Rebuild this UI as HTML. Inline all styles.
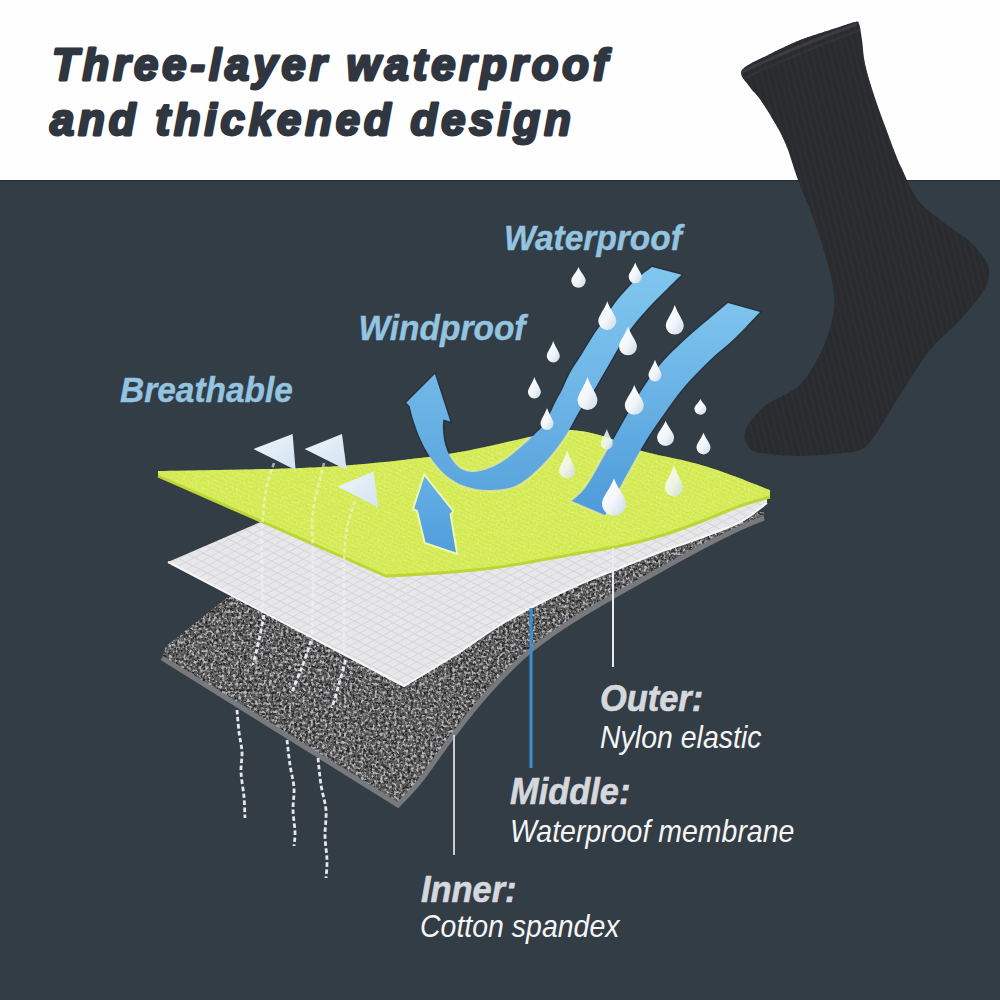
<!DOCTYPE html>
<html><head><meta charset="utf-8">
<style>
html,body{margin:0;padding:0;width:1000px;height:1000px;overflow:hidden;background:#fff;}
svg{display:block;}
text{font-family:"Liberation Sans",sans-serif;}
</style></head>
<body>
<svg width="1000" height="1000" viewBox="0 0 1000 1000">
<defs>
<linearGradient id="rib1" gradientUnits="userSpaceOnUse" x1="0" y1="267" x2="0" y2="491">
<stop offset="0" stop-color="#80c6ef"/><stop offset="0.6" stop-color="#6cb4e6"/><stop offset="1" stop-color="#5aa5de"/>
</linearGradient>
<linearGradient id="rib2" gradientUnits="userSpaceOnUse" x1="0" y1="303" x2="0" y2="515">
<stop offset="0" stop-color="#7ec4ee"/><stop offset="1" stop-color="#4d9bd9"/>
</linearGradient>
<linearGradient id="arr3" gradientUnits="userSpaceOnUse" x1="0" y1="474" x2="0" y2="554">
<stop offset="0" stop-color="#66b0e6"/><stop offset="1" stop-color="#4f9ddb"/>
</linearGradient>
<linearGradient id="drop" x1="0" y1="0" x2="1" y2="1">
<stop offset="0" stop-color="#ffffff"/><stop offset="0.55" stop-color="#f2f6fa"/><stop offset="1" stop-color="#c9d8e6"/>
</linearGradient>
<linearGradient id="tri" x1="0" y1="0" x2="1" y2="1">
<stop offset="0" stop-color="#eef5fb"/><stop offset="1" stop-color="#d3e3f0"/>
</linearGradient>
<filter id="speck" x="0" y="0" width="1" height="1" color-interpolation-filters="sRGB">
<feTurbulence type="fractalNoise" baseFrequency="0.36" numOctaves="2" seed="3" result="t"/>
<feColorMatrix in="t" type="matrix" values="0 0 0 0 0  0 0 0 0 0  0 0 0 0 0  4 0 0 0 -1.85" result="a"/>
<feFlood flood-color="#b8b8b8" result="w"/>
<feComposite in="w" in2="a" operator="in" result="wa"/>
<feComposite in="wa" in2="SourceGraphic" operator="in"/>
</filter>
<filter id="speckd" x="0" y="0" width="1" height="1" color-interpolation-filters="sRGB">
<feTurbulence type="fractalNoise" baseFrequency="0.38" numOctaves="2" seed="11" result="t"/>
<feColorMatrix in="t" type="matrix" values="0 0 0 0 0  0 0 0 0 0  0 0 0 0 0  4 0 0 0 -1.7" result="a"/>
<feFlood flood-color="#262626" result="w"/>
<feComposite in="w" in2="a" operator="in" result="wa"/>
<feComposite in="wa" in2="SourceGraphic" operator="in"/>
</filter>
<pattern id="grid" patternUnits="userSpaceOnUse" width="8" height="8" patternTransform="rotate(27) skewX(-35)">
<rect width="8" height="8" fill="#e8e8ea"/>
<path d="M0,0.5 H8 M0.5,0 V8" stroke="#d6d6da" stroke-width="1"/>
</pattern>
<pattern id="ribs" patternUnits="userSpaceOnUse" width="4" height="4" patternTransform="rotate(24)">
<rect width="4" height="4" fill="none"/>
<path d="M0,1 H4" stroke="#c9e04c" stroke-width="1.2"/>
</pattern>
<pattern id="sockribs" patternUnits="userSpaceOnUse" width="6" height="6" patternTransform="rotate(-14)">
<rect width="6" height="6" fill="none"/>
<rect x="0" y="0" width="1.6" height="6" fill="#2d2f33"/>
</pattern>
<filter id="yspeck" x="0" y="0" width="1" height="1" color-interpolation-filters="sRGB">
<feTurbulence type="fractalNoise" baseFrequency="0.5" numOctaves="2" seed="7" result="t"/>
<feColorMatrix in="t" type="matrix" values="0 0 0 0 0  0 0 0 0 0  0 0 0 0 0  3 0 0 0 -1.3" result="a"/>
<feFlood flood-color="#bfd83e" result="w"/>
<feComposite in="w" in2="a" operator="in" result="wa"/>
<feComposite in="wa" in2="SourceGraphic" operator="in"/>
</filter>
<filter id="yspeck2" x="0" y="0" width="1" height="1" color-interpolation-filters="sRGB">
<feTurbulence type="fractalNoise" baseFrequency="0.5" numOctaves="2" seed="21" result="t"/>
<feColorMatrix in="t" type="matrix" values="0 0 0 0 0  0 0 0 0 0  0 0 0 0 0  3 0 0 0 -1.4" result="a"/>
<feFlood flood-color="#e6f48c" result="w"/>
<feComposite in="w" in2="a" operator="in" result="wa"/>
<feComposite in="wa" in2="SourceGraphic" operator="in"/>
</filter>
</defs>
<rect x="0" y="0" width="1000" height="180" fill="#fefefe"/>
<rect x="0" y="180" width="1000" height="820" fill="#333d46"/>
<rect x="0" y="180" width="1000" height="1.5" fill="#2a3038"/>
<g font-size="43.5" font-weight="bold" font-style="italic" fill="#2f3640" stroke="#2f3640" stroke-width="2.8" stroke-linejoin="round" letter-spacing="4">
<text x="52" y="79.5">Three-layer waterproof</text>
<text x="50" y="135">and thickened design</text>
</g>
<clipPath id="sockclip"><path d="M742.0,70.0 C745.5,64.7 760.3,59.0 770.0,54.0 C779.7,49.0 790.0,44.0 800.0,40.0 C810.0,36.0 820.8,33.0 830.0,30.0 C839.2,27.0 850.2,23.0 855.0,22.0 C859.8,21.0 857.8,21.0 859.0,24.0 C860.2,27.0 861.0,33.3 862.0,40.0 C863.0,46.7 863.2,55.3 865.0,64.0 C866.8,72.7 870.2,83.0 873.0,92.0 C875.8,101.0 878.8,109.2 882.0,118.0 C885.2,126.8 888.8,136.8 892.0,145.0 C895.2,153.2 896.7,157.8 901.0,167.0 C905.3,176.2 911.0,190.8 918.0,200.0 C925.0,209.2 934.7,215.3 943.0,222.0 C951.3,228.7 961.2,234.0 968.0,240.0 C974.8,246.0 980.5,252.7 984.0,258.0 C987.5,263.3 989.0,266.7 989.0,272.0 C989.0,277.3 988.8,282.0 984.0,290.0 C979.2,298.0 969.0,310.0 960.0,320.0 C951.0,330.0 940.0,337.5 930.0,350.0 C920.0,362.5 909.2,380.8 900.0,395.0 C890.8,409.2 881.7,425.8 875.0,435.0 C868.3,444.2 867.5,446.8 860.0,450.0 C852.5,453.2 840.0,453.0 830.0,454.0 C820.0,455.0 810.0,456.0 800.0,456.0 C790.0,456.0 778.0,455.0 770.0,454.0 C762.0,453.0 756.2,453.7 752.0,450.0 C747.8,446.3 742.8,439.3 745.0,432.0 C747.2,424.7 755.8,413.8 765.0,406.0 C774.2,398.2 790.5,394.3 800.0,385.0 C809.5,375.7 816.5,361.5 822.0,350.0 C827.5,338.5 831.0,325.2 833.0,316.0 C835.0,306.8 834.3,301.7 834.0,295.0 C833.7,288.3 833.0,284.5 831.0,276.0 C829.0,267.5 825.3,254.7 822.0,244.0 C818.7,233.3 815.0,222.7 811.0,212.0 C807.0,201.3 802.5,192.0 798.0,180.0 C793.5,168.0 790.0,153.0 784.0,140.0 C778.0,127.0 767.8,111.0 762.0,102.0 C756.2,93.0 752.3,91.3 749.0,86.0 C745.7,80.7 738.5,75.3 742.0,70.0 Z"/></clipPath>
<path d="M742.0,70.0 C745.5,64.7 760.3,59.0 770.0,54.0 C779.7,49.0 790.0,44.0 800.0,40.0 C810.0,36.0 820.8,33.0 830.0,30.0 C839.2,27.0 850.2,23.0 855.0,22.0 C859.8,21.0 857.8,21.0 859.0,24.0 C860.2,27.0 861.0,33.3 862.0,40.0 C863.0,46.7 863.2,55.3 865.0,64.0 C866.8,72.7 870.2,83.0 873.0,92.0 C875.8,101.0 878.8,109.2 882.0,118.0 C885.2,126.8 888.8,136.8 892.0,145.0 C895.2,153.2 896.7,157.8 901.0,167.0 C905.3,176.2 911.0,190.8 918.0,200.0 C925.0,209.2 934.7,215.3 943.0,222.0 C951.3,228.7 961.2,234.0 968.0,240.0 C974.8,246.0 980.5,252.7 984.0,258.0 C987.5,263.3 989.0,266.7 989.0,272.0 C989.0,277.3 988.8,282.0 984.0,290.0 C979.2,298.0 969.0,310.0 960.0,320.0 C951.0,330.0 940.0,337.5 930.0,350.0 C920.0,362.5 909.2,380.8 900.0,395.0 C890.8,409.2 881.7,425.8 875.0,435.0 C868.3,444.2 867.5,446.8 860.0,450.0 C852.5,453.2 840.0,453.0 830.0,454.0 C820.0,455.0 810.0,456.0 800.0,456.0 C790.0,456.0 778.0,455.0 770.0,454.0 C762.0,453.0 756.2,453.7 752.0,450.0 C747.8,446.3 742.8,439.3 745.0,432.0 C747.2,424.7 755.8,413.8 765.0,406.0 C774.2,398.2 790.5,394.3 800.0,385.0 C809.5,375.7 816.5,361.5 822.0,350.0 C827.5,338.5 831.0,325.2 833.0,316.0 C835.0,306.8 834.3,301.7 834.0,295.0 C833.7,288.3 833.0,284.5 831.0,276.0 C829.0,267.5 825.3,254.7 822.0,244.0 C818.7,233.3 815.0,222.7 811.0,212.0 C807.0,201.3 802.5,192.0 798.0,180.0 C793.5,168.0 790.0,153.0 784.0,140.0 C778.0,127.0 767.8,111.0 762.0,102.0 C756.2,93.0 752.3,91.3 749.0,86.0 C745.7,80.7 738.5,75.3 742.0,70.0 Z" fill="#292b2f"/>
<g clip-path="url(#sockclip)">
<rect x="700" y="0" width="300" height="480" fill="url(#sockribs)"/>
<path d="M742,72 C775,56 820,38 857,24" stroke="#3a3c40" stroke-width="3" fill="none"/>
<path d="M745,78 C778,62 822,44 860,30" stroke="#323438" stroke-width="2" fill="none"/>
</g>
<path d="M166,646 L300,540 L764,512 L764.0,518.0 C760.0,519.7 750.7,523.0 740.0,528.0 C729.3,533.0 713.3,541.0 700.0,548.0 C686.7,555.0 674.7,561.8 660.0,570.0 C645.3,578.2 628.0,587.7 612.0,597.0 C596.0,606.3 578.7,616.2 564.0,626.0 C549.3,635.8 537.3,644.2 524.0,656.0 C510.7,667.8 496.0,683.5 484.0,697.0 C472.0,710.5 462.7,723.0 452.0,737.0 C441.3,751.0 429.0,769.7 420.0,781.0 C411.0,792.3 401.7,801.0 398.0,805.0 L162,658 Z" fill="#5e5e60"/>
<path d="M166,646 L300,540 L764,512 L764.0,518.0 C760.0,519.7 750.7,523.0 740.0,528.0 C729.3,533.0 713.3,541.0 700.0,548.0 C686.7,555.0 674.7,561.8 660.0,570.0 C645.3,578.2 628.0,587.7 612.0,597.0 C596.0,606.3 578.7,616.2 564.0,626.0 C549.3,635.8 537.3,644.2 524.0,656.0 C510.7,667.8 496.0,683.5 484.0,697.0 C472.0,710.5 462.7,723.0 452.0,737.0 C441.3,751.0 429.0,769.7 420.0,781.0 C411.0,792.3 401.7,801.0 398.0,805.0 L162,658 Z" fill="#000" filter="url(#speckd)"/>
<path d="M166,646 L300,540 L764,512 L764.0,518.0 C760.0,519.7 750.7,523.0 740.0,528.0 C729.3,533.0 713.3,541.0 700.0,548.0 C686.7,555.0 674.7,561.8 660.0,570.0 C645.3,578.2 628.0,587.7 612.0,597.0 C596.0,606.3 578.7,616.2 564.0,626.0 C549.3,635.8 537.3,644.2 524.0,656.0 C510.7,667.8 496.0,683.5 484.0,697.0 C472.0,710.5 462.7,723.0 452.0,737.0 C441.3,751.0 429.0,769.7 420.0,781.0 C411.0,792.3 401.7,801.0 398.0,805.0 L162,658 Z" fill="#000" filter="url(#speck)"/>
<path d="M162,658 L398,805 L398.0,805.0 C401.7,801.0 411.0,792.3 420.0,781.0 C429.0,769.7 441.3,751.0 452.0,737.0 C462.7,723.0 472.0,710.5 484.0,697.0 C496.0,683.5 510.7,667.8 524.0,656.0 C537.3,644.2 549.3,635.8 564.0,626.0 C578.7,616.2 596.0,606.3 612.0,597.0 C628.0,587.7 645.3,578.2 660.0,570.0 C674.7,561.8 686.7,555.0 700.0,548.0 C713.3,541.0 729.3,533.0 740.0,528.0 C750.7,523.0 760.0,519.7 764.0,518.0" fill="none" stroke="#77797d" stroke-width="5"/>
<path d="M168,562 L300,505 L767,498 L767.0,503.0 C762.5,506.2 751.2,516.2 740.0,522.0 C728.8,527.8 713.3,533.0 700.0,538.0 C686.7,543.0 673.3,547.0 660.0,552.0 C646.7,557.0 633.3,562.7 620.0,568.0 C606.7,573.3 593.3,578.2 580.0,584.0 C566.7,589.8 553.3,596.2 540.0,603.0 C526.7,609.8 513.3,616.8 500.0,625.0 C486.7,633.2 476.0,641.8 460.0,652.0 C444.0,662.2 413.3,680.3 404.0,686.0 L168,562 Z" fill="url(#grid)"/>
<path d="M168,562 L404,686 L460.0,652.0 C466.7,647.5 486.7,633.2 500.0,625.0 C513.3,616.8 526.7,609.8 540.0,603.0 C553.3,596.2 566.7,589.8 580.0,584.0 C593.3,578.2 606.7,573.3 620.0,568.0 C633.3,562.7 646.7,557.0 660.0,552.0 C673.3,547.0 686.7,543.0 700.0,538.0 C713.3,533.0 728.8,527.8 740.0,522.0 C751.2,516.2 762.5,506.2 767.0,503.0" stroke="#f7f7f7" stroke-width="2" fill="none"/>
<clipPath id="yclip"><path d="M158.0,471.0 C179.2,470.6 252.7,469.5 285.0,468.5 C317.3,467.5 329.5,466.8 352.0,465.0 C374.5,463.2 402.0,460.2 420.0,458.0 C438.0,455.8 448.0,454.1 460.0,452.0 C472.0,449.9 480.8,447.9 492.0,445.5 C503.2,443.1 514.7,440.1 527.0,437.5 C539.3,434.9 553.7,430.3 566.0,430.0 C578.3,429.7 588.3,432.0 601.0,435.5 C613.7,439.0 627.8,446.8 642.0,451.0 C656.2,455.2 673.0,457.7 686.0,461.0 C699.0,464.3 706.0,466.2 720.0,471.0 C734.0,475.8 761.7,486.8 770.0,490.0 L770,496 L770.0,497.0 C765.0,498.5 751.7,501.8 740.0,506.0 C728.3,510.2 713.3,517.0 700.0,522.0 C686.7,527.0 673.3,532.0 660.0,536.0 C646.7,540.0 633.3,543.2 620.0,546.0 C606.7,548.8 600.0,549.5 580.0,553.0 C560.0,556.5 523.3,563.7 500.0,567.0 C476.7,570.3 459.0,571.5 440.0,573.0 C421.0,574.5 395.0,575.5 386.0,576.0 L158,476 Z"/></clipPath>
<path d="M158.0,471.0 C179.2,470.6 252.7,469.5 285.0,468.5 C317.3,467.5 329.5,466.8 352.0,465.0 C374.5,463.2 402.0,460.2 420.0,458.0 C438.0,455.8 448.0,454.1 460.0,452.0 C472.0,449.9 480.8,447.9 492.0,445.5 C503.2,443.1 514.7,440.1 527.0,437.5 C539.3,434.9 553.7,430.3 566.0,430.0 C578.3,429.7 588.3,432.0 601.0,435.5 C613.7,439.0 627.8,446.8 642.0,451.0 C656.2,455.2 673.0,457.7 686.0,461.0 C699.0,464.3 706.0,466.2 720.0,471.0 C734.0,475.8 761.7,486.8 770.0,490.0 L770,496 L770.0,497.0 C765.0,498.5 751.7,501.8 740.0,506.0 C728.3,510.2 713.3,517.0 700.0,522.0 C686.7,527.0 673.3,532.0 660.0,536.0 C646.7,540.0 633.3,543.2 620.0,546.0 C606.7,548.8 600.0,549.5 580.0,553.0 C560.0,556.5 523.3,563.7 500.0,567.0 C476.7,570.3 459.0,571.5 440.0,573.0 C421.0,574.5 395.0,575.5 386.0,576.0 L158,476 Z" fill="#d8ee58"/>
<path d="M158.0,471.0 C179.2,470.6 252.7,469.5 285.0,468.5 C317.3,467.5 329.5,466.8 352.0,465.0 C374.5,463.2 402.0,460.2 420.0,458.0 C438.0,455.8 448.0,454.1 460.0,452.0 C472.0,449.9 480.8,447.9 492.0,445.5 C503.2,443.1 514.7,440.1 527.0,437.5 C539.3,434.9 553.7,430.3 566.0,430.0 C578.3,429.7 588.3,432.0 601.0,435.5 C613.7,439.0 627.8,446.8 642.0,451.0 C656.2,455.2 673.0,457.7 686.0,461.0 C699.0,464.3 706.0,466.2 720.0,471.0 C734.0,475.8 761.7,486.8 770.0,490.0 L770,496 L770.0,497.0 C765.0,498.5 751.7,501.8 740.0,506.0 C728.3,510.2 713.3,517.0 700.0,522.0 C686.7,527.0 673.3,532.0 660.0,536.0 C646.7,540.0 633.3,543.2 620.0,546.0 C606.7,548.8 600.0,549.5 580.0,553.0 C560.0,556.5 523.3,563.7 500.0,567.0 C476.7,570.3 459.0,571.5 440.0,573.0 C421.0,574.5 395.0,575.5 386.0,576.0 L158,476 Z" fill="url(#ribs)" opacity="0.55"/>
<path d="M158.0,471.0 C179.2,470.6 252.7,469.5 285.0,468.5 C317.3,467.5 329.5,466.8 352.0,465.0 C374.5,463.2 402.0,460.2 420.0,458.0 C438.0,455.8 448.0,454.1 460.0,452.0 C472.0,449.9 480.8,447.9 492.0,445.5 C503.2,443.1 514.7,440.1 527.0,437.5 C539.3,434.9 553.7,430.3 566.0,430.0 C578.3,429.7 588.3,432.0 601.0,435.5 C613.7,439.0 627.8,446.8 642.0,451.0 C656.2,455.2 673.0,457.7 686.0,461.0 C699.0,464.3 706.0,466.2 720.0,471.0 C734.0,475.8 761.7,486.8 770.0,490.0 L770,496 L770.0,497.0 C765.0,498.5 751.7,501.8 740.0,506.0 C728.3,510.2 713.3,517.0 700.0,522.0 C686.7,527.0 673.3,532.0 660.0,536.0 C646.7,540.0 633.3,543.2 620.0,546.0 C606.7,548.8 600.0,549.5 580.0,553.0 C560.0,556.5 523.3,563.7 500.0,567.0 C476.7,570.3 459.0,571.5 440.0,573.0 C421.0,574.5 395.0,575.5 386.0,576.0 L158,476 Z" fill="#000" filter="url(#yspeck)" opacity="0.25"/>
<path d="M158.0,471.0 C179.2,470.6 252.7,469.5 285.0,468.5 C317.3,467.5 329.5,466.8 352.0,465.0 C374.5,463.2 402.0,460.2 420.0,458.0 C438.0,455.8 448.0,454.1 460.0,452.0 C472.0,449.9 480.8,447.9 492.0,445.5 C503.2,443.1 514.7,440.1 527.0,437.5 C539.3,434.9 553.7,430.3 566.0,430.0 C578.3,429.7 588.3,432.0 601.0,435.5 C613.7,439.0 627.8,446.8 642.0,451.0 C656.2,455.2 673.0,457.7 686.0,461.0 C699.0,464.3 706.0,466.2 720.0,471.0 C734.0,475.8 761.7,486.8 770.0,490.0 L770,496 L770.0,497.0 C765.0,498.5 751.7,501.8 740.0,506.0 C728.3,510.2 713.3,517.0 700.0,522.0 C686.7,527.0 673.3,532.0 660.0,536.0 C646.7,540.0 633.3,543.2 620.0,546.0 C606.7,548.8 600.0,549.5 580.0,553.0 C560.0,556.5 523.3,563.7 500.0,567.0 C476.7,570.3 459.0,571.5 440.0,573.0 C421.0,574.5 395.0,575.5 386.0,576.0 L158,476 Z" fill="#000" filter="url(#yspeck2)" opacity="0.7"/>
<path d="M158,476 L386,576 L386.0,576.0 C395.0,575.5 421.0,574.5 440.0,573.0 C459.0,571.5 476.7,570.3 500.0,567.0 C523.3,563.7 560.0,556.5 580.0,553.0 C600.0,549.5 606.7,548.8 620.0,546.0 C633.3,543.2 646.7,540.0 660.0,536.0 C673.3,532.0 686.7,527.0 700.0,522.0 C713.3,517.0 728.3,510.2 740.0,506.0 C751.7,501.8 765.0,498.5 770.0,497.0" fill="none" stroke="#bcd636" stroke-width="3"/>
<g fill="none" stroke="#f2f5e6" stroke-width="2.6" stroke-dasharray="4.5 2.5" opacity="0.6">
<path d="M274.0,463.0 C272.7,467.5 268.0,478.7 266.0,490.0 C264.0,501.3 262.7,518.3 262.0,531.0 C261.3,543.7 261.8,552.8 262.0,566.0 C262.2,579.2 262.8,602.7 263.0,610.0"/>
<path d="M324.0,463.0 C322.2,471.2 314.8,496.2 313.0,512.0 C311.2,527.8 313.0,544.0 313.0,558.0 C313.0,572.0 313.2,583.0 313.0,596.0 C312.8,609.0 312.2,629.3 312.0,636.0"/>
<path d="M355.0,501.0 C353.7,505.5 348.8,517.7 347.0,528.0 C345.2,538.3 344.5,549.0 344.0,563.0 C343.5,577.0 344.0,597.2 344.0,612.0 C344.0,626.8 344.0,645.3 344.0,652.0"/>
</g>
<g fill="none" stroke="#eef3f7" stroke-width="2.8" stroke-dasharray="4.5 2.5" opacity="0.95">
<path d="M264.0,615.0 C263.2,619.2 260.8,631.7 259.0,640.0 C257.2,648.3 254.0,660.8 253.0,665.0"/>
<path d="M311.0,641.0 C309.5,645.3 305.2,658.5 302.0,667.0 C298.8,675.5 293.7,687.8 292.0,692.0"/>
<path d="M345.6,660.0 C344.5,664.0 341.3,676.0 339.0,684.0 C336.7,692.0 333.2,704.0 332.0,708.0"/>
<path d="M237.0,710.0 C237.3,713.7 238.2,725.0 239.0,732.0 C239.8,739.0 241.7,745.3 242.0,752.0 C242.3,758.7 240.7,764.5 241.0,772.0 C241.3,779.5 243.3,789.3 244.0,797.0 C244.7,804.7 244.8,814.5 245.0,818.0"/>
<path d="M287.0,740.0 C287.5,744.2 288.8,757.0 290.0,765.0 C291.2,773.0 293.5,780.5 294.0,788.0 C294.5,795.5 292.8,802.7 293.0,810.0 C293.2,817.3 294.8,826.0 295.0,832.0 C295.2,838.0 294.2,843.7 294.0,846.0"/>
<path d="M318.0,758.0 C318.5,762.5 319.7,776.3 321.0,785.0 C322.3,793.7 325.3,801.5 326.0,810.0 C326.7,818.5 324.8,827.7 325.0,836.0 C325.2,844.3 326.8,853.0 327.0,860.0 C327.2,867.0 326.2,875.0 326.0,878.0"/>
</g>
<g fill="url(#tri)">
<path d="M253.6,449 L292.6,434 L295.6,470 Z"/>
<path d="M304.6,449 L342,434 L346.7,470 Z"/>
<path d="M337.7,486.6 L373.7,471.6 L378.2,507.6 Z"/>
</g>
<path d="M652.0,267.0 C649.8,268.7 643.3,273.2 639.0,277.0 C634.7,280.8 630.0,285.7 626.0,290.0 C622.0,294.3 618.7,298.0 615.0,303.0 C611.3,308.0 607.7,314.5 604.0,320.0 C600.3,325.5 596.7,330.3 593.0,336.0 C589.3,341.7 585.8,347.8 582.0,354.0 C578.2,360.2 573.3,367.0 570.0,373.0 C566.7,379.0 564.3,385.3 562.0,390.0 C559.7,394.7 558.8,395.5 556.0,401.0 C553.2,406.5 548.5,417.5 545.0,423.0 C541.5,428.5 539.0,430.0 535.0,434.0 C531.0,438.0 526.0,442.7 521.0,447.0 C516.0,451.3 510.2,456.5 505.0,460.0 C499.8,463.5 495.2,466.0 490.0,468.0 C484.8,470.0 478.8,471.8 474.0,472.0 C469.2,472.2 464.8,471.3 461.0,469.0 C457.2,466.7 453.7,462.2 451.0,458.0 C448.3,453.8 446.3,448.7 445.0,444.0 C443.7,439.3 443.3,434.1 443.0,430.0 C442.7,425.9 443.2,421.2 443.3,419.5 L450.3,421.6 L434.9,374 L406.2,402.7 L409.7,406.2 C410.2,408.3 411.4,414.0 413.0,419.0 C414.6,424.0 416.7,430.5 419.0,436.0 C421.3,441.5 424.0,447.0 427.0,452.0 C430.0,457.0 433.0,461.5 437.0,466.0 C441.0,470.5 445.8,475.5 451.0,479.0 C456.2,482.5 461.5,485.2 468.0,487.0 C474.5,488.8 482.2,490.2 490.0,490.0 C497.8,489.8 507.2,489.3 515.0,486.0 C522.8,482.7 530.2,476.2 537.0,470.0 C543.8,463.8 550.7,455.7 556.0,449.0 C561.3,442.3 565.0,436.5 569.0,430.0 C573.0,423.5 575.8,416.7 580.0,410.0 C584.2,403.3 590.5,395.3 594.0,390.0 C597.5,384.7 598.0,383.2 601.0,378.0 C604.0,372.8 608.3,365.3 612.0,359.0 C615.7,352.7 619.0,346.2 623.0,340.0 C627.0,333.8 631.2,328.0 636.0,322.0 C640.8,316.0 646.7,309.7 652.0,304.0 C657.3,298.3 663.1,292.9 668.0,288.0 C672.9,283.1 679.3,277.0 681.6,274.8 Z" fill="none" stroke="#202833" stroke-width="3" opacity="0.5"/>
<path d="M652.0,267.0 C649.8,268.7 643.3,273.2 639.0,277.0 C634.7,280.8 630.0,285.7 626.0,290.0 C622.0,294.3 618.7,298.0 615.0,303.0 C611.3,308.0 607.7,314.5 604.0,320.0 C600.3,325.5 596.7,330.3 593.0,336.0 C589.3,341.7 585.8,347.8 582.0,354.0 C578.2,360.2 573.3,367.0 570.0,373.0 C566.7,379.0 564.3,385.3 562.0,390.0 C559.7,394.7 558.8,395.5 556.0,401.0 C553.2,406.5 548.5,417.5 545.0,423.0 C541.5,428.5 539.0,430.0 535.0,434.0 C531.0,438.0 526.0,442.7 521.0,447.0 C516.0,451.3 510.2,456.5 505.0,460.0 C499.8,463.5 495.2,466.0 490.0,468.0 C484.8,470.0 478.8,471.8 474.0,472.0 C469.2,472.2 464.8,471.3 461.0,469.0 C457.2,466.7 453.7,462.2 451.0,458.0 C448.3,453.8 446.3,448.7 445.0,444.0 C443.7,439.3 443.3,434.1 443.0,430.0 C442.7,425.9 443.2,421.2 443.3,419.5 L450.3,421.6 L434.9,374 L406.2,402.7 L409.7,406.2 C410.2,408.3 411.4,414.0 413.0,419.0 C414.6,424.0 416.7,430.5 419.0,436.0 C421.3,441.5 424.0,447.0 427.0,452.0 C430.0,457.0 433.0,461.5 437.0,466.0 C441.0,470.5 445.8,475.5 451.0,479.0 C456.2,482.5 461.5,485.2 468.0,487.0 C474.5,488.8 482.2,490.2 490.0,490.0 C497.8,489.8 507.2,489.3 515.0,486.0 C522.8,482.7 530.2,476.2 537.0,470.0 C543.8,463.8 550.7,455.7 556.0,449.0 C561.3,442.3 565.0,436.5 569.0,430.0 C573.0,423.5 575.8,416.7 580.0,410.0 C584.2,403.3 590.5,395.3 594.0,390.0 C597.5,384.7 598.0,383.2 601.0,378.0 C604.0,372.8 608.3,365.3 612.0,359.0 C615.7,352.7 619.0,346.2 623.0,340.0 C627.0,333.8 631.2,328.0 636.0,322.0 C640.8,316.0 646.7,309.7 652.0,304.0 C657.3,298.3 663.1,292.9 668.0,288.0 C672.9,283.1 679.3,277.0 681.6,274.8 Z" fill="none" stroke="#f0f9b0" stroke-width="4" opacity="0.75" clip-path="url(#yclip)"/>
<path d="M652.0,267.0 C649.8,268.7 643.3,273.2 639.0,277.0 C634.7,280.8 630.0,285.7 626.0,290.0 C622.0,294.3 618.7,298.0 615.0,303.0 C611.3,308.0 607.7,314.5 604.0,320.0 C600.3,325.5 596.7,330.3 593.0,336.0 C589.3,341.7 585.8,347.8 582.0,354.0 C578.2,360.2 573.3,367.0 570.0,373.0 C566.7,379.0 564.3,385.3 562.0,390.0 C559.7,394.7 558.8,395.5 556.0,401.0 C553.2,406.5 548.5,417.5 545.0,423.0 C541.5,428.5 539.0,430.0 535.0,434.0 C531.0,438.0 526.0,442.7 521.0,447.0 C516.0,451.3 510.2,456.5 505.0,460.0 C499.8,463.5 495.2,466.0 490.0,468.0 C484.8,470.0 478.8,471.8 474.0,472.0 C469.2,472.2 464.8,471.3 461.0,469.0 C457.2,466.7 453.7,462.2 451.0,458.0 C448.3,453.8 446.3,448.7 445.0,444.0 C443.7,439.3 443.3,434.1 443.0,430.0 C442.7,425.9 443.2,421.2 443.3,419.5 L450.3,421.6 L434.9,374 L406.2,402.7 L409.7,406.2 C410.2,408.3 411.4,414.0 413.0,419.0 C414.6,424.0 416.7,430.5 419.0,436.0 C421.3,441.5 424.0,447.0 427.0,452.0 C430.0,457.0 433.0,461.5 437.0,466.0 C441.0,470.5 445.8,475.5 451.0,479.0 C456.2,482.5 461.5,485.2 468.0,487.0 C474.5,488.8 482.2,490.2 490.0,490.0 C497.8,489.8 507.2,489.3 515.0,486.0 C522.8,482.7 530.2,476.2 537.0,470.0 C543.8,463.8 550.7,455.7 556.0,449.0 C561.3,442.3 565.0,436.5 569.0,430.0 C573.0,423.5 575.8,416.7 580.0,410.0 C584.2,403.3 590.5,395.3 594.0,390.0 C597.5,384.7 598.0,383.2 601.0,378.0 C604.0,372.8 608.3,365.3 612.0,359.0 C615.7,352.7 619.0,346.2 623.0,340.0 C627.0,333.8 631.2,328.0 636.0,322.0 C640.8,316.0 646.7,309.7 652.0,304.0 C657.3,298.3 663.1,292.9 668.0,288.0 C672.9,283.1 679.3,277.0 681.6,274.8 Z" fill="url(#rib1)"/>
<path d="M728.0,303.0 C724.8,305.7 715.5,313.5 709.0,319.0 C702.5,324.5 695.8,329.8 689.0,336.0 C682.2,342.2 674.2,349.5 668.0,356.0 C661.8,362.5 657.0,368.3 652.0,375.0 C647.0,381.7 643.0,387.8 638.0,396.0 C633.0,404.2 627.8,413.7 622.0,424.0 C616.2,434.3 609.0,447.5 603.0,458.0 C597.0,468.5 591.2,479.8 586.0,487.0 C580.8,494.2 574.3,498.7 572.0,501.0 L572,501 L605.0,515.0 C607.5,510.3 613.5,498.8 620.0,487.0 C626.5,475.2 636.7,456.2 644.0,444.0 C651.3,431.8 657.2,423.7 664.0,414.0 C670.8,404.3 677.3,395.0 685.0,386.0 C692.7,377.0 701.7,368.0 710.0,360.0 C718.3,352.0 726.7,346.0 735.0,338.0 C743.3,330.0 755.8,316.3 760.0,312.0 Z" fill="none" stroke="#202833" stroke-width="3" opacity="0.5"/>
<path d="M728.0,303.0 C724.8,305.7 715.5,313.5 709.0,319.0 C702.5,324.5 695.8,329.8 689.0,336.0 C682.2,342.2 674.2,349.5 668.0,356.0 C661.8,362.5 657.0,368.3 652.0,375.0 C647.0,381.7 643.0,387.8 638.0,396.0 C633.0,404.2 627.8,413.7 622.0,424.0 C616.2,434.3 609.0,447.5 603.0,458.0 C597.0,468.5 591.2,479.8 586.0,487.0 C580.8,494.2 574.3,498.7 572.0,501.0 L572,501 L605.0,515.0 C607.5,510.3 613.5,498.8 620.0,487.0 C626.5,475.2 636.7,456.2 644.0,444.0 C651.3,431.8 657.2,423.7 664.0,414.0 C670.8,404.3 677.3,395.0 685.0,386.0 C692.7,377.0 701.7,368.0 710.0,360.0 C718.3,352.0 726.7,346.0 735.0,338.0 C743.3,330.0 755.8,316.3 760.0,312.0 Z" fill="none" stroke="#f0f9b0" stroke-width="4" opacity="0.75" clip-path="url(#yclip)"/>
<path d="M728.0,303.0 C724.8,305.7 715.5,313.5 709.0,319.0 C702.5,324.5 695.8,329.8 689.0,336.0 C682.2,342.2 674.2,349.5 668.0,356.0 C661.8,362.5 657.0,368.3 652.0,375.0 C647.0,381.7 643.0,387.8 638.0,396.0 C633.0,404.2 627.8,413.7 622.0,424.0 C616.2,434.3 609.0,447.5 603.0,458.0 C597.0,468.5 591.2,479.8 586.0,487.0 C580.8,494.2 574.3,498.7 572.0,501.0 L572,501 L605.0,515.0 C607.5,510.3 613.5,498.8 620.0,487.0 C626.5,475.2 636.7,456.2 644.0,444.0 C651.3,431.8 657.2,423.7 664.0,414.0 C670.8,404.3 677.3,395.0 685.0,386.0 C692.7,377.0 701.7,368.0 710.0,360.0 C718.3,352.0 726.7,346.0 735.0,338.0 C743.3,330.0 755.8,316.3 760.0,312.0 Z" fill="url(#rib2)"/>
<path d="M424.2,474.3 L453.3,511 L450.6,514.4 L457.2,554 L424.7,543 L417,511 L413,509 Z" fill="url(#arr3)" stroke="#eef8b0" stroke-width="2"/>
<g>
<path d="M578.5,267.0 C581.0,273.1 585.7,276.6 585.7,280.6 A7.2,7.2 0 0 1 571.3,280.6 C571.3,276.6 576.0,273.1 578.5,267.0 Z" fill="url(#drop)"/>
<path d="M635.2,262.6 C637.5,269.0 641.7,273.2 641.7,276.8 A6.5,6.5 0 0 1 628.7,276.8 C628.7,273.2 632.9,269.0 635.2,262.6 Z" fill="url(#drop)"/>
<path d="M607.3,301.3 C610.4,310.2 616.3,316.1 616.3,321.0 A9.0,9.0 0 0 1 598.3,321.0 C598.3,316.1 604.1,310.2 607.3,301.3 Z" fill="url(#drop)"/>
<path d="M674.8,305.0 C677.9,314.3 683.8,320.7 683.8,325.6 A9.0,9.0 0 0 1 665.8,325.6 C665.8,320.7 671.6,314.3 674.8,305.0 Z" fill="url(#drop)"/>
<path d="M628.0,326.5 C631.1,335.4 637.0,341.4 637.0,346.3 A9.0,9.0 0 0 1 619.0,346.3 C619.0,341.4 624.9,335.4 628.0,326.5 Z" fill="url(#drop)"/>
<path d="M553.3,341.0 C555.6,347.8 559.8,352.4 559.8,356.0 A6.5,6.5 0 0 1 546.8,356.0 C546.8,352.4 551.0,347.8 553.3,341.0 Z" fill="url(#drop)"/>
<path d="M655.0,359.8 C657.3,366.6 661.5,371.3 661.5,374.9 A6.5,6.5 0 0 1 648.5,374.9 C648.5,371.3 652.7,366.6 655.0,359.8 Z" fill="url(#drop)"/>
<path d="M534.4,376.9 C536.7,383.7 540.9,388.4 540.9,392.0 A6.5,6.5 0 0 1 527.9,392.0 C527.9,388.4 532.1,383.7 534.4,376.9 Z" fill="url(#drop)"/>
<path d="M587.5,376.9 C591.0,387.3 597.5,394.5 597.5,400.0 A10.0,10.0 0 0 1 577.5,400.0 C577.5,394.5 584.0,387.3 587.5,376.9 Z" fill="url(#drop)"/>
<path d="M634.3,385.0 C637.6,394.1 643.8,400.0 643.8,405.2 A9.5,9.5 0 0 1 624.8,405.2 C624.8,400.0 631.0,394.1 634.3,385.0 Z" fill="url(#drop)"/>
<path d="M547.0,408.0 C549.3,415.0 553.5,419.9 553.5,423.5 A6.5,6.5 0 0 1 540.5,423.5 C540.5,419.9 544.7,415.0 547.0,408.0 Z" fill="url(#drop)"/>
<path d="M700.4,399.0 C702.5,403.4 706.4,405.5 706.4,408.8 A6.0,6.0 0 0 1 694.4,408.8 C694.4,405.5 698.3,403.4 700.4,399.0 Z" fill="url(#drop)"/>
<path d="M606.8,429.0 C608.9,435.6 612.8,440.3 612.8,443.6 A6.0,6.0 0 0 1 600.8,443.6 C600.8,440.3 604.7,435.6 606.8,429.0 Z" fill="url(#drop)" opacity="0.85"/>
<path d="M665.6,420.8 C668.6,428.3 674.1,432.8 674.1,437.5 A8.5,8.5 0 0 1 657.1,437.5 C657.1,432.8 662.6,428.3 665.6,420.8 Z" fill="url(#drop)"/>
<path d="M703.5,432.8 C706.0,439.4 710.5,443.5 710.5,447.4 A7.0,7.0 0 0 1 696.5,447.4 C696.5,443.5 701.0,439.4 703.5,432.8 Z" fill="url(#drop)"/>
<path d="M567.2,450.8 C570.0,459.6 575.2,466.0 575.2,470.4 A8.0,8.0 0 0 1 559.2,470.4 C559.2,466.0 564.4,459.6 567.2,450.8 Z" fill="url(#drop)" opacity="0.85"/>
<path d="M674.0,465.0 C677.1,475.1 683.0,482.4 683.0,487.4 A9.0,9.0 0 0 1 665.0,487.4 C665.0,482.4 670.9,475.1 674.0,465.0 Z" fill="url(#drop)" opacity="0.85"/>
<path d="M614.0,478.4 C618.2,489.7 626.0,497.0 626.0,503.6 A12.0,12.0 0 0 1 602.0,503.6 C602.0,497.0 609.8,489.7 614.0,478.4 Z" fill="url(#drop)"/>
</g>
<line x1="613" y1="548" x2="613" y2="667" stroke="#e9ecef" stroke-width="2"/>
<line x1="531" y1="608" x2="531" y2="768" stroke="#3f8fd0" stroke-width="3"/>
<line x1="454" y1="735" x2="454" y2="855" stroke="#c9cdd2" stroke-width="2"/>
<g font-weight="bold" font-style="italic" fill="#93c4e0" stroke="#93c4e0" stroke-width="0.4" font-size="36">
<text transform="translate(504,250) scale(0.93,1)">Waterproof</text>
<text transform="translate(358.5,340) scale(0.93,1)">Windproof</text>
<text transform="translate(120,402) scale(0.93,1)">Breathable</text>
</g>
<g font-weight="bold" font-style="italic" fill="#d5d9de" stroke="#d5d9de" stroke-width="0.6" font-size="37">
<text transform="translate(600,711) scale(0.93,1)">Outer:</text>
<text transform="translate(510,804) scale(0.93,1)">Middle:</text>
<text transform="translate(421,902) scale(0.93,1)">Inner:</text>
</g>
<g font-style="italic" fill="#f5f5f5" font-size="30.8">
<text transform="translate(600,748) scale(0.925,1)">Nylon elastic</text>
<text transform="translate(510,842) scale(0.925,1)">Waterproof membrane</text>
<text transform="translate(420,937) scale(0.925,1)">Cotton spandex</text>
</g>
</svg>
</body></html>
